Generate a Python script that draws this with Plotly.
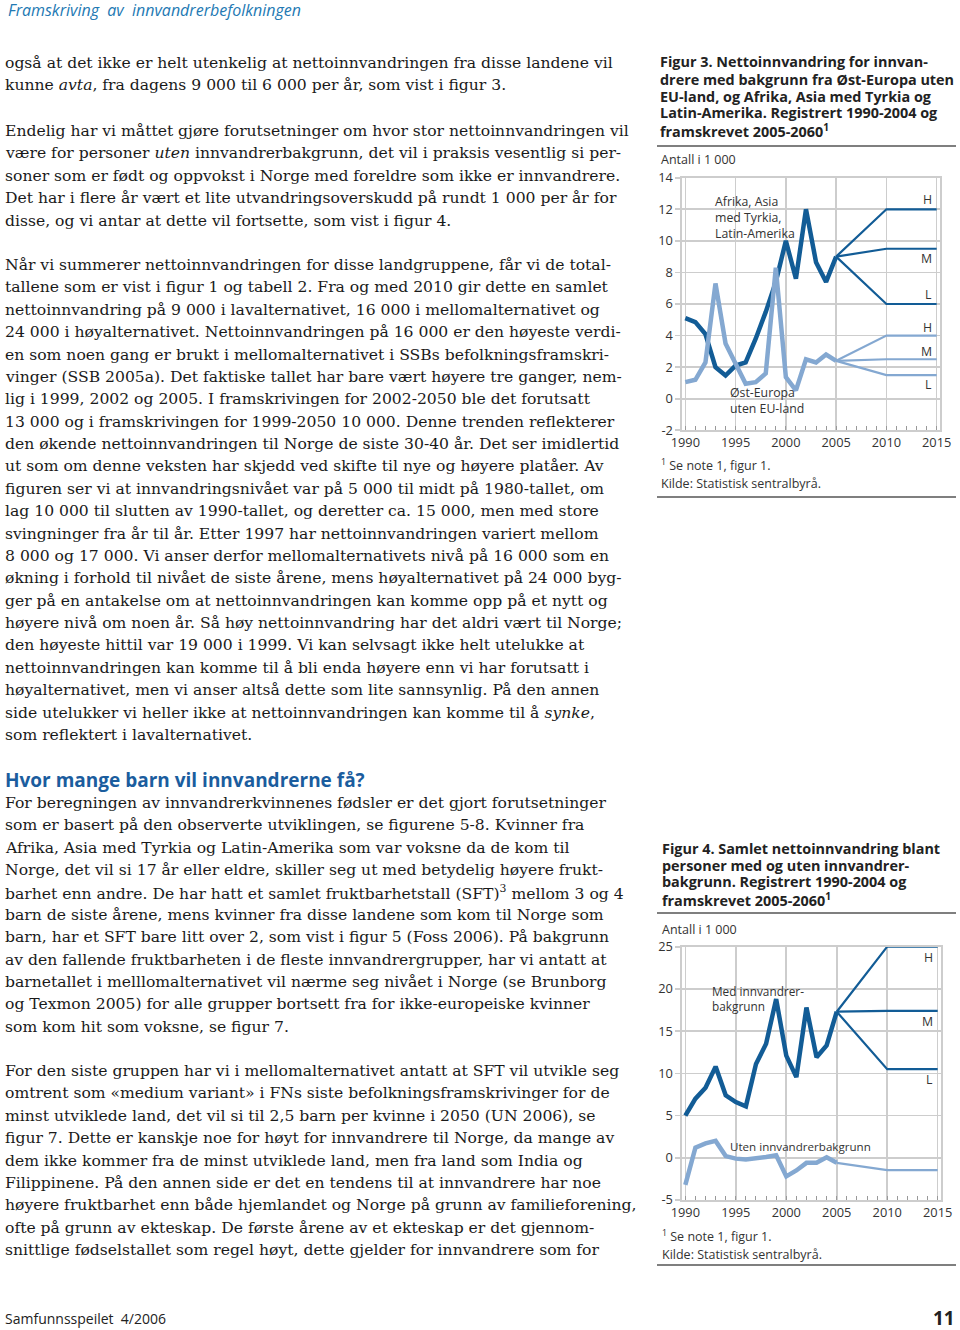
import plotly.graph_objects as go

# ---------------- data ----------------
years_hist = list(range(1990, 2006))
proj_years = [2005, 2010, 2015]

# Figur 3 (Antall i 1 000)
afrika_hist = [5.1, 4.85, 4.1, 2.0, 1.47, 2.1, 2.3, 3.8, 5.5, 7.4, 10.0, 7.6, 12.0, 8.65, 7.4, 9.0]
ost_hist = [1.05, 1.2, 2.3, 7.3, 3.5, 2.2, 0.95, 1.05, 1.6, 8.3, 1.37, 0.53, 2.5, 2.3, 2.8, 2.4]
afrika_H = [9.0, 12.0, 12.0]
afrika_M = [9.0, 9.5, 9.5]
afrika_L = [9.0, 6.0, 6.0]
ost_H = [2.4, 4.0, 4.0]
ost_M = [2.4, 2.5, 2.5]
ost_L = [2.4, 1.5, 1.5]

# Figur 4 (Antall i 1 000)
med_hist = [5.0, 7.0, 8.3, 10.8, 7.4, 6.6, 6.1, 11.1, 13.5, 18.8, 12.1, 9.55, 17.8, 11.9, 13.3, 17.3]
uten_hist = [-3.2, 1.2, 1.7, 2.0, 0.2, -0.1, -0.2, -0.1, 0.1, 0.3, -2.2, -1.5, -0.6, -0.6, 0.05, -0.6]
med_H = [17.3, 25.0, 25.0]
med_M = [17.3, 17.4, 17.4]
med_L = [17.3, 10.5, 10.5]
uten_proj = [-0.6, -1.45, -1.45]

fig3_yticks = [-2, 0, 2, 4, 6, 8, 10, 12, 14]
fig4_yticks = [-5, 0, 5, 10, 15, 20, 25]
x_ticks = [1990, 1995, 2000, 2005, 2010, 2015]

# ---------------- styles ----------------
W, H = 960, 1330
DARK = "#125c96"
LIGHT = "#84a8d1"
GRID = "#cdcdcd"
SANS = "Open Sans"
SERIF = "DejaVu Serif"
TXT = "#222222"


def py(px):
    return 1 - px / H


def px_x(px):
    return px / W


fig = go.Figure()

# Figure 3 traces
fig.add_trace(go.Scatter(x=years_hist, y=afrika_hist, mode="lines", line=dict(color=DARK, width=4.5),
                         xaxis="x", yaxis="y", showlegend=False, hoverinfo="skip"))
for ser in (afrika_H, afrika_M, afrika_L):
    fig.add_trace(go.Scatter(x=proj_years, y=ser, mode="lines", line=dict(color=DARK, width=2.2),
                             xaxis="x", yaxis="y", showlegend=False, hoverinfo="skip"))
fig.add_trace(go.Scatter(x=years_hist, y=ost_hist, mode="lines", line=dict(color=LIGHT, width=4.5),
                         xaxis="x", yaxis="y", showlegend=False, hoverinfo="skip"))
for ser in (ost_H, ost_M, ost_L):
    fig.add_trace(go.Scatter(x=proj_years, y=ser, mode="lines", line=dict(color=LIGHT, width=2.2),
                             xaxis="x", yaxis="y", showlegend=False, hoverinfo="skip"))

# Figure 4 traces
fig.add_trace(go.Scatter(x=years_hist, y=med_hist, mode="lines", line=dict(color=DARK, width=4.5),
                         xaxis="x2", yaxis="y2", showlegend=False, hoverinfo="skip"))
for ser in (med_H, med_M, med_L):
    fig.add_trace(go.Scatter(x=proj_years, y=ser, mode="lines", line=dict(color=DARK, width=2.2),
                             xaxis="x2", yaxis="y2", showlegend=False, hoverinfo="skip"))
fig.add_trace(go.Scatter(x=years_hist, y=uten_hist, mode="lines", line=dict(color=LIGHT, width=4.5),
                         xaxis="x2", yaxis="y2", showlegend=False, hoverinfo="skip"))
fig.add_trace(go.Scatter(x=proj_years, y=uten_proj, mode="lines", line=dict(color=LIGHT, width=2.2),
                         xaxis="x2", yaxis="y2", showlegend=False, hoverinfo="skip"))

tickfont = dict(family=SANS, size=12.8, color="#333333")


def xaxis(domain, anchor):
    return dict(domain=domain, anchor=anchor, range=[1989.67, 2015.33], tickvals=x_ticks,
                showgrid=True, gridcolor=GRID, gridwidth=1.6, zeroline=False,
                showline=True, linecolor=GRID, linewidth=1.6, mirror=True,
                ticks="inside", ticklen=4, tickcolor="#999999", tickwidth=1,
                minor=dict(dtick=1, tick0=1990, ticks="inside", ticklen=4, tickcolor="#999999",
                           tickwidth=1, showgrid=False),
                tickfont=tickfont, fixedrange=True, automargin=False)


def yaxis(domain, anchor, rng, vals):
    return dict(domain=domain, anchor=anchor, range=rng, tickvals=vals,
                ticktext=[str(v) for v in vals],
                showgrid=True, gridcolor=GRID, gridwidth=1.6, zeroline=False,
                showline=True, linecolor=GRID, linewidth=1.6, mirror=True,
                ticks="outside", ticklen=5, tickcolor=GRID, tickwidth=1.6,
                tickfont=tickfont, fixedrange=True, automargin=False)


fig.update_layout(
    width=W, height=H, margin=dict(l=0, r=0, t=0, b=0, pad=0, autoexpand=False),
    paper_bgcolor="white", plot_bgcolor="white",
    xaxis=xaxis([px_x(682), px_x(940)], "y"),
    yaxis=yaxis([py(430.3), py(177.7)], "x", [-2, 14], fig3_yticks),
    xaxis2=xaxis([px_x(682), px_x(941)], "y2"),
    yaxis2=yaxis([py(1200), py(946.7)], "x2", [-5, 25], fig4_yticks),
)

ann = []


def text(x, y, s, size, family=SANS, color=TXT, anchor="left", bold=False):
    if bold:
        s = "<b>" + s + "</b>"
    ann.append(dict(x=px_x(x), y=py(y), xref="paper", yref="paper", text=s, showarrow=False,
                    xanchor=anchor, yanchor="middle", align=anchor, borderpad=0,
                    font=dict(family=family, size=size, color=color)))


def data_text(xr, yr, x, y, s, size=12.3, anchor="left", color="#333333"):
    ann.append(dict(x=x, y=y, xref=xr, yref=yr, text=s, showarrow=False, xanchor=anchor,
                    yanchor="middle", align=anchor, borderpad=0,
                    font=dict(family=SANS, size=size, color=color)))


# header & footer
text(7, 10, "<i>Framskriving  av  innvandrerbefolkningen</i>", 16, color="#2379b3")
text(4, 1318, "Samfunnsspeilet  4/2006", 14, color="#222222")
text(956, 1318, "11", 19, anchor="right", bold=True)

# body text
LH = 22.38
body = [
    (63, [
        "også at det ikke er helt utenkelig at nettoinnvandringen fra disse landene vil",
        "kunne <i>avta</i>, fra dagens 9 000 til 6 000 per år, som vist i figur 3.",
    ]),
    (131, [
        "Endelig har vi måttet gjøre forutsetninger om hvor stor nettoinnvandringen vil",
        "være for personer <i>uten</i> innvandrerbakgrunn, det vil i praksis vesentlig si per-",
        "soner som er født og oppvokst i Norge med foreldre som ikke er innvandrere.",
        "Det har i flere år vært et lite utvandringsoverskudd på rundt 1 000 per år for",
        "disse, og vi antar at dette vil fortsette, som vist i figur 4.",
    ]),
    (265, [
        "Når vi summerer nettoinnvandringen for disse landgruppene, får vi de total-",
        "tallene som er vist i figur 1 og tabell 2. Fra og med 2010 gir dette en samlet",
        "nettoinnvandring på 9 000 i lavalternativet, 16 000 i mellomalternativet og",
        "24 000 i høyalternativet. Nettoinnvandringen på 16 000 er den høyeste verdi-",
        "en som noen gang er brukt i mellomalternativet i SSBs befolkningsframskri-",
        "vinger (SSB 2005a). Det faktiske tallet har bare vært høyere tre ganger, nem-",
        "lig i 1999, 2002 og 2005. I framskrivingen for 2002-2050 ble det forutsatt",
        "13 000 og i framskrivingen for 1999-2050 10 000. Denne trenden reflekterer",
        "den økende nettoinnvandringen til Norge de siste 30-40 år. Det ser imidlertid",
        "ut som om denne veksten har skjedd ved skifte til nye og høyere platåer. Av",
        "figuren ser vi at innvandringsnivået var på 5 000 til midt på 1980-tallet, om",
        "lag 10 000 til slutten av 1990-tallet, og deretter ca. 15 000, men med store",
        "svingninger fra år til år. Etter 1997 har nettoinnvandringen variert mellom",
        "8 000 og 17 000. Vi anser derfor mellomalternativets nivå på 16 000 som en",
        "økning i forhold til nivået de siste årene, mens høyalternativet på 24 000 byg-",
        "ger på en antakelse om at nettoinnvandringen kan komme opp på et nytt og",
        "høyere nivå om noen år. Så høy nettoinnvandring har det aldri vært til Norge;",
        "den høyeste hittil var 19 000 i 1999. Vi kan selvsagt ikke helt utelukke at",
        "nettoinnvandringen kan komme til å bli enda høyere enn vi har forutsatt i",
        "høyalternativet, men vi anser altså dette som lite sannsynlig. På den annen",
        "side utelukker vi heller ikke at nettoinnvandringen kan komme til å <i>synke</i>,",
        "som reflektert i lavalternativet.",
    ]),
    (803, [
        "For beregningen av innvandrerkvinnenes fødsler er det gjort forutsetninger",
        "som er basert på den observerte utviklingen, se figurene 5-8. Kvinner fra",
        "Afrika, Asia med Tyrkia og Latin-Amerika som var voksne da de kom til",
        "Norge, det vil si 17 år eller eldre, skiller seg ut med betydelig høyere frukt-",
        "barhet enn andre. De har hatt et samlet fruktbarhetstall (SFT)<sup>3</sup> mellom 3 og 4",
        "barn de siste årene, mens kvinner fra disse landene som kom til Norge som",
        "barn, har et SFT bare litt over 2, som vist i figur 5 (Foss 2006). På bakgrunn",
        "av den fallende fruktbarheten i de fleste innvandrergrupper, har vi antatt at",
        "barnetallet i melllomalternativet vil nærme seg nivået i Norge (se Brunborg",
        "og Texmon 2005) for alle grupper bortsett fra for ikke-europeiske kvinner",
        "som kom hit som voksne, se figur 7.",
    ]),
    (1071, [
        "For den siste gruppen har vi i mellomalternativet antatt at SFT vil utvikle seg",
        "omtrent som «medium variant» i FNs siste befolkningsframskrivinger for de",
        "minst utviklede land, det vil si til 2,5 barn per kvinne i 2050 (UN 2006), se",
        "figur 7. Dette er kanskje noe for høyt for innvandrere til Norge, da mange av",
        "dem ikke kommer fra de minst utviklede land, men fra land som India og",
        "Filippinene. På den annen side er det en tendens til at innvandrere har noe",
        "høyere fruktbarhet enn både hjemlandet og Norge på grunn av familieforening,",
        "ofte på grunn av ekteskap. De første årene av et ekteskap er det gjennom-",
        "snittlige fødselstallet som regel høyt, dette gjelder for innvandrere som for",
    ]),
]
for y0, lines in body:
    for i, line in enumerate(lines):
        text(4, y0 + i * LH, line, 15.6, family=SERIF, color="#1a1a1a")

text(4, 780, "Hvor mange barn vil innvandrerne få?", 19, color="#1b5d9e", bold=True)

# Figure 3 caption
cap3 = ["Figur 3. Nettoinnvandring for innvan-", "drere med bakgrunn fra Øst-Europa uten",
        "EU-land, og Afrika, Asia med Tyrkia og", "Latin-Amerika. Registrert 1990-2004 og",
        "framskrevet 2005-2060<sup>1</sup>"]
for i, line in enumerate(cap3):
    text(659, 62 + i * 17, line, 14.4, bold=True)
text(660, 159, "Antall i 1 000", 12.5, color="#333333")
text(660, 465, "<sup>1</sup> Se note 1, figur 1.", 12.5, color="#333333")
text(660, 484, "Kilde: Statistisk sentralbyrå.", 12.5, color="#333333")

# Figure 4 caption
cap4 = ["Figur 4. Samlet nettoinnvandring blant", "personer med og uten innvandrer-",
        "bakgrunn. Registrert 1990-2004 og", "framskrevet 2005-2060<sup>1</sup>"]
for i, line in enumerate(cap4):
    text(661, 848 + i * 17, line, 14.4, bold=True)
text(661, 929, "Antall i 1 000", 12.5, color="#333333")
text(661, 1236, "<sup>1</sup> Se note 1, figur 1.", 12.5, color="#333333")
text(661, 1254, "Kilde: Statistisk sentralbyrå.", 12.5, color="#333333")

# in-chart labels (fig 3)
data_text("x", "y", 1992.9, 11.5, "Afrika, Asia<br>med Tyrkia,<br>Latin-Amerika")
data_text("x", "y", 1994.3, -0.1, "Øst-Europa<br>uten EU-land")
for yv, lab in ((12.6, "H"), (8.9, "M"), (6.6, "L"), (4.5, "H"), (3.0, "M"), (0.9, "L")):
    data_text("x", "y", 2014.6, yv, lab, anchor="right")

# in-chart labels (fig 4)
data_text("x2", "y2", 1992.55, 18.9, "Med innvandrer-<br>bakgrunn", size=11.8)
data_text("x2", "y2", 1994.3, 1.35, "Uten innvandrerbakgrunn", size=11.6)
for yv, lab in ((23.7, "H"), (16.2, "M"), (9.3, "L")):
    data_text("x2", "y2", 2014.6, yv, lab, anchor="right")

fig.update_layout(annotations=ann)

# horizontal rules
shapes = []
for yr in (146, 497, 913, 1265):
    shapes.append(dict(type="line", xref="paper", yref="paper", x0=px_x(657), x1=px_x(956),
                       y0=py(yr), y1=py(yr), line=dict(color="#555555", width=1.5)))
fig.update_layout(shapes=shapes)

fig.write_html("out.html", config={"displayModeBar": False, "staticPlot": True},
               post_script="document.body.style.margin='0px';")
